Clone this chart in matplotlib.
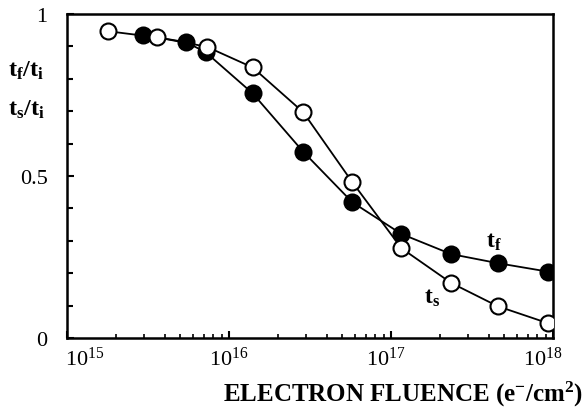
import numpy as np
import matplotlib
matplotlib.use("Agg")
import matplotlib.pyplot as plt
from matplotlib.ticker import FixedLocator, LogLocator, NullFormatter
import matplotlib.transforms as mtrans

plt.rcParams['font.family'] = ['Liberation Serif', 'DejaVu Serif']
plt.rcParams['mathtext.fontset'] = 'custom'
plt.rcParams['mathtext.rm'] = 'Liberation Serif'
plt.rcParams['mathtext.it'] = 'Liberation Serif:italic'
plt.rcParams['mathtext.bf'] = 'Liberation Serif:bold'

# electron fluence (e-/cm2) and normalised times
fluence_ts = [1.78e15, 3.58e15, 7.28e15, 1.40e16, 2.87e16, 5.77e16, 1.16e17, 2.35e17, 4.56e17, 9.27e17]
ts_ratio = [0.947, 0.928, 0.899, 0.835, 0.697, 0.481, 0.277, 0.170, 0.098, 0.046]

fluence_tf = [2.96e15, 5.43e15, 7.18e15, 1.40e16, 2.87e16, 5.77e16, 1.16e17, 2.35e17, 4.56e17, 9.27e17]
tf_ratio = [0.935, 0.913, 0.882, 0.755, 0.575, 0.419, 0.321, 0.259, 0.231, 0.205]

x_ticks = [1e15, 1e16, 1e17, 1e18]
x_labels = [r'$10^{15}$', r'$10^{16}$', r'$10^{17}$', r'$10^{18}$']
y_ticks = [0, 0.5, 1]
y_labels = ['0', '0.5', '1']

fig = plt.figure(figsize=(5.86, 4.10), dpi=100)
ax = fig.add_axes([67/586, 1 - 339/410, (553-67)/586, (339-15)/410])

ax.plot(fluence_tf, tf_ratio, color='black', lw=1.3, marker='o', ms=11.5,
        mfc='black', mec='black', mew=1.5, zorder=3)
ax.plot(fluence_ts, ts_ratio, color='black', lw=1.3, marker='o', ms=11.5,
        mfc='white', mec='black', mew=1.5, zorder=4)

ax.set_xscale('log')
ax.set_xlim(1e15, 1e18)
ax.set_ylim(0, 1)

ax.set_xticks(x_ticks)
ax.set_xticklabels(x_labels)
ax.xaxis.set_minor_locator(LogLocator(base=10, subs=np.arange(2, 10)))
ax.xaxis.set_minor_formatter(NullFormatter())
ax.set_yticks(y_ticks)
ax.set_yticklabels(y_labels)
ax.yaxis.set_minor_locator(FixedLocator(np.arange(0.1, 1.0, 0.1)))

ax.tick_params(axis='both', which='both', direction='in', top=False, right=False, colors='black')
ax.tick_params(axis='x', which='major', length=5, width=1.5, pad=6, labelsize=16)
ax.tick_params(axis='x', which='minor', length=3, width=1.2)
ax.tick_params(axis='y', which='major', length=5, width=1.5, pad=14, labelsize=16)
ax.tick_params(axis='y', which='minor', length=4, width=1.5)
for s in ax.spines.values():
    s.set_linewidth(1.8)

# nudge the end labels like in the original
lbls = ax.get_xticklabels()
nudges = [18, 0, -5, -10]
for lb, dx in zip(lbls, nudges):
    lb.set_transform(lb.get_transform() + mtrans.ScaledTranslation(dx/100, 0, fig.dpi_scale_trans))

# y labels
fig.text(8/586, 1 - 71/410, r'$\mathbf{t_f/t_i}$', ha='left', va='center', fontsize=17.5)
fig.text(8/586, 1 - 110/410, r'$\mathbf{t_s/t_i}$', ha='left', va='center', fontsize=17.5)

# curve labels
ax.annotate(r'$\mathbf{t_f}$', xy=(fluence_tf[-2], tf_ratio[-2]), xytext=(-4, 22),
            textcoords='offset pixels', ha='center', va='center', fontsize=17)
ax.annotate(r'$\mathbf{t_s}$', xy=(fluence_ts[-3], ts_ratio[-3]), xytext=(-19, -14),
            textcoords='offset pixels', ha='center', va='center', fontsize=17)

fig.text(583/586, 1 - 394/410, r'ELECTRON FLUENCE (e$^{\mathbf{-}}$/cm$^{\mathbf{2}}$)',
         ha='right', va='center', fontsize=18, fontweight='bold')

fig.savefig('out.png', dpi=100)
